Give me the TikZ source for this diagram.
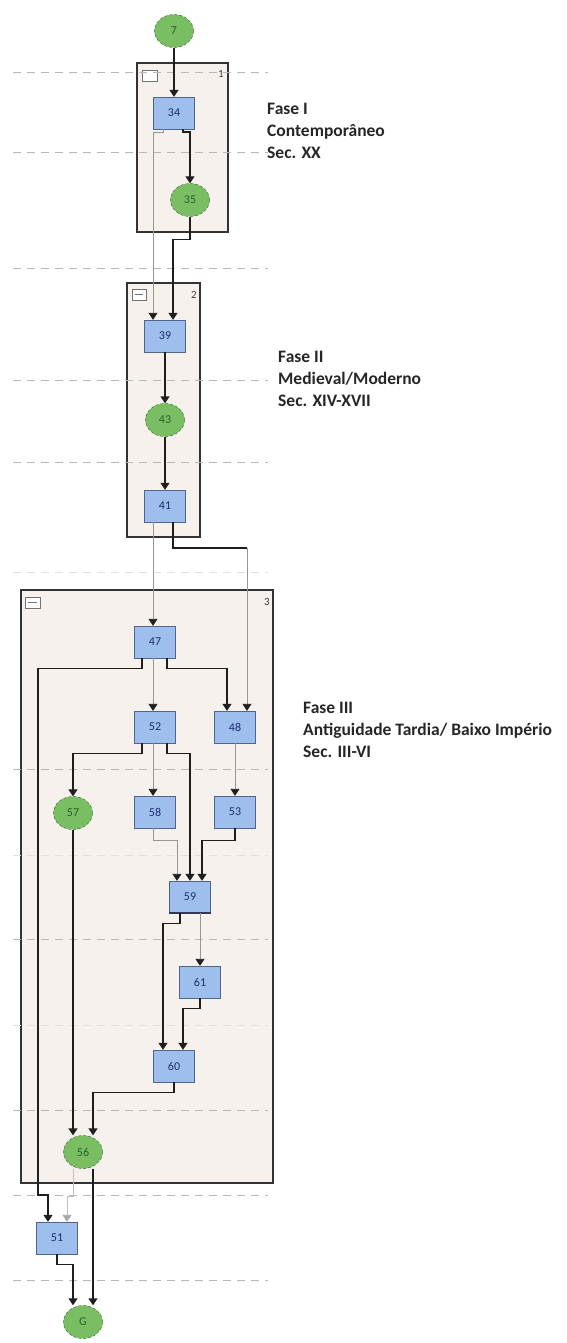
\documentclass[tikz,border=0pt]{standalone}
\usepackage{fontspec}
\setmainfont{Carlito}
\usepackage{tikz}
\usetikzlibrary{arrows.meta, calc, positioning, shapes.geometric}
\usepackage{xcolor}
\definecolor{caixa}{RGB}{246,241,236}
\definecolor{azul}{RGB}{158,190,238}
\definecolor{azulborda}{RGB}{80,100,140}
\definecolor{azultexto}{RGB}{30,45,110}
\definecolor{verde}{RGB}{122,190,100}
\definecolor{verdeborda}{RGB}{40,95,40}
\definecolor{fioescuro}{RGB}{30,30,30}
\definecolor{fiocinza}{RGB}{150,150,150}
\newcommand{\fasefont}{\fontsize{17.5}{22}\selectfont\bfseries}
\tikzset{
  tarefa/.style={rectangle, draw=azulborda, fill=azul, minimum width=41pt, minimum height=32pt, inner sep=0pt, text=azultexto, font=\fontsize{12}{12}\selectfont},
  marco/.style={ellipse, draw=verdeborda, densely dashed, fill=verde, minimum width=39pt, minimum height=33pt, inner sep=0pt, text=verdeborda, font=\fontsize{12}{12}\selectfont},
  fase/.style={draw=black!80, line width=1.2pt, fill=caixa},
  icone/.style={draw=black!55, fill=white, line width=0.6pt},
  grelha/.style={draw=black!28, dashed, dash pattern=on 8pt off 6pt, line width=0.8pt},
  grelhafraca/.style={draw=black!12, dashed, dash pattern=on 8pt off 6pt, line width=0.8pt},
  fio/.style={draw=fioescuro, line width=1.4pt, -{Triangle[width=9pt,length=7pt]}},
  fiocinza/.style={draw=fiocinza, line width=0.9pt, -{Triangle[width=9pt,length=7pt,color=fioescuro]}},
  fioclaro/.style={draw=black!25, line width=0.9pt, -{Triangle[width=9pt,length=7pt,color=black!35]}},
  rotulo/.style={font=\fontsize{11}{11}\selectfont, text=black!75, inner sep=0pt},
  legenda/.style={anchor=north west, align=left, inner sep=0pt, text=black!85, font=\fasefont}
}
\begin{document}
\begin{tikzpicture}[x=1pt, y=-1pt]
    \useasboundingbox (0,0) rectangle (567,1343);

    % caixas das fases
    \draw[fase] (137,63) rectangle (228,232);
    \draw[fase] (127,283) rectangle (200,537);
    \draw[fase] (21,590) rectangle (273,1183);
    \draw[icone] (142,70) rectangle (157,81);
    \draw[icone] (132,289) rectangle (146,300);
    \draw[black!55] (135,294.5) -- (143,294.5);
    \draw[icone] (25,597) rectangle (40,608);
    \draw[black!55] (28,602.5) -- (37,602.5);
    \node[rotulo] (r1) at (221,74) {1};
    \node[rotulo] (r2) at (194,295) {2};
    \node[rotulo] (r3) at (267,602) {3};

    % linhas tracejadas
    \foreach \y in {72,152,268,380,462,769,939,1110,1195,1280}
        \draw[grelha] (13,\y) -- (268,\y);
    \foreach \y in {572,855,1025}
        \draw[grelhafraca] (13,\y) -- (268,\y);

    % unidades
    \node[marco] (ue7) at (174,31) {7};
    \node[tarefa] (ue34) at (174,113) {34};
    \node[marco] (ue35) at (190,200) {35};
    \node[tarefa] (ue39) at (165,336) {39};
    \node[marco] (ue43) at (165,420) {43};
    \node[tarefa] (ue41) at (165,506) {41};
    \node[tarefa] (ue47) at (155,642) {47};
    \node[tarefa] (ue52) at (155,727) {52};
    \node[tarefa] (ue48) at (235,727) {48};
    \node[marco] (ue57) at (73,813) {57};
    \node[tarefa] (ue58) at (155,812) {58};
    \node[tarefa] (ue53) at (235,812) {53};
    \node[tarefa] (ue59) at (190,897) {59};
    \node[tarefa] (ue61) at (200,982) {61};
    \node[tarefa] (ue60) at (174,1066) {60};
    \node[marco] (ue56) at (83,1152) {56};
    \node[tarefa] (ue51) at (57,1238) {51};
    \node[marco] (ueG) at (83,1322) {G};
    \draw[line width=2pt, azulborda!60!black] (ue59.south west) -- (ue59.south east);

    % ligacoes fase I
    \draw[fio] (ue7.south -| ue34) -- (ue34.north);
    \draw[fiocinza] ([xshift=-11pt]ue34.south) -- ++(0,3) -| ([xshift=-12pt]ue39.north);
    \draw[fio] ([xshift=9pt]ue34.south) -- ++(0,3) -| (ue35.north);
    \draw[fio] (ue35.south) -- ++(0,23) -| ([xshift=8pt]ue39.north);

    % ligacoes fase II
    \draw[fio] (ue39.south) -- (ue43.north);
    \draw[fio] (ue43.south) -- (ue41.north);
    \draw[fiocinza] ([xshift=-12pt]ue41.south) -- ([xshift=-2pt]ue47.north);
    \coordinate (c41) at (247,548);
    \draw[fiocinza] (c41) -- ([xshift=12pt]ue48.north);
    \draw[fioescuro, line width=1.4pt] ([xshift=8pt]ue41.south) |- (c41);

    % ligacoes fase III
    \draw[fio] ([xshift=-13pt]ue47.south) -- ++(0,10) -| (38,1195) -| ([xshift=-9pt]ue51.north);
    \draw[fiocinza] ([xshift=-2pt]ue47.south) -- ([xshift=-2pt]ue52.north);
    \draw[fio] ([xshift=12pt]ue47.south) -- ++(0,10) -| ([xshift=-8pt]ue48.north);
    \draw[fio] ([xshift=-13pt]ue52.south) -- ++(0,10) -| (ue57.north);
    \draw[fiocinza] ([xshift=-2pt]ue52.south) -- ([xshift=-2pt]ue58.north);
    \draw[fio] ([xshift=12pt]ue52.south) -- ++(0,10) -| (ue59.north);
    \draw[fiocinza] (ue48.south) -- (ue53.north);
    \draw[fiocinza] ([xshift=-2pt]ue58.south) -- ++(0,12) -| ([xshift=-13pt]ue59.north);
    \draw[fio] (ue53.south) -- ++(0,12) -| ([xshift=12pt]ue59.north);
    \draw[fio] ([xshift=-10pt]ue59.south) -- ++(0,10) -| ([xshift=-11pt]ue60.north);
    \draw[fiocinza] ([xshift=10pt]ue59.south) -- (ue61.north);
    \draw[fio] (ue61.south) -- ++(0,10) -| ([xshift=9pt]ue60.north);
    \draw[fio] (ue60.south) -- ++(0,10) -| ([xshift=10pt]ue56.north);
    \draw[fio] (ue57.south) -- ([xshift=-10pt]ue56.north);

    % saidas
    \draw[fioclaro] ([xshift=-10pt]ue56.south) -- ++(0,28) -| ([xshift=10pt]ue51.north);
    \draw[fio] ([xshift=10pt]ue56.south) -- ([xshift=10pt]ueG.north);
    \draw[fio] (ue51.south) -- ++(0,10) -| ([xshift=-10pt]ueG.north);

    % legendas
    \node[legenda] (f1) at (267,103) {Fase I\\Contemporâneo\\Sec. XX};
    \node[legenda] (f2) at (278,351) {Fase II\\Medieval/Moderno\\Sec. XIV-XVII};
    \node[legenda] (f3) at (303,702) {Fase III\\Antiguidade Tardia/ Baixo Império\\Sec. III-VI};
\end{tikzpicture}
\end{document}
